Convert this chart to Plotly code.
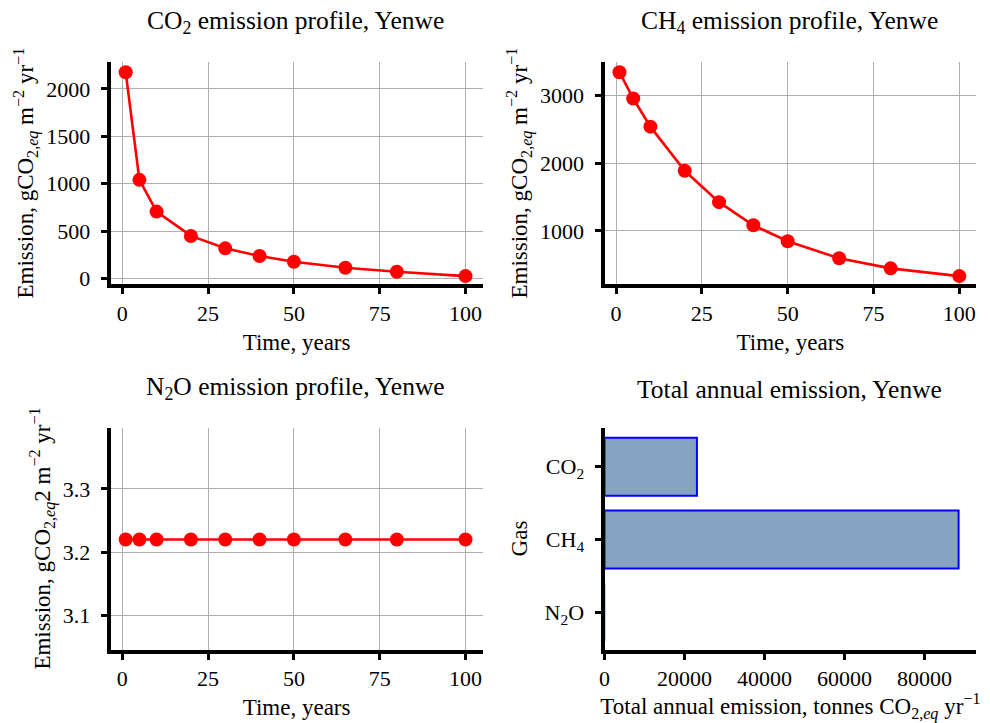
import plotly.graph_objects as go

# ---------------- data ----------------
years = [1, 5, 10, 20, 30, 40, 50, 65, 80, 100]
co2_profile = [2176, 1040, 705, 448, 317, 236, 176, 112, 70, 24]
ch4_profile = [3338, 2950, 2536, 1886, 1424, 1084, 848, 597, 449, 335]
n2o_profile = [3.22, 3.22, 3.22, 3.22, 3.22, 3.22, 3.22, 3.22, 3.22, 3.22]

gases = ["N2O", "CH4", "CO2"]
gas_labels = ["N<sub>2</sub>O", "CH<sub>4</sub>", "CO<sub>2</sub>"]
gas_totals = [85, 88500, 23100]

x_ticks = [0, 25, 50, 75, 100]
co2_ticks = [0, 500, 1000, 1500, 2000]
ch4_ticks = [1000, 2000, 3000]
n2o_ticks = [3.1, 3.2, 3.3]
total_ticks = [0, 20000, 40000, 60000, 80000]

# ---------------- style ----------------
W, H = 990, 723
LW = 4
FONT = "Liberation Serif"
TICK_SIZE = 22
LABEL_SIZE = 23
TITLE_SIZE = 25.5
RED = "#ff0000"
GRID = "#b0b0b0"


def mpl_range(vals, margin=0.05):
    lo, hi = min(vals), max(vals)
    if hi - lo < 1e-12:
        lo, hi = lo - 0.05 * abs(lo), hi + 0.05 * abs(hi)
    span = hi - lo
    return [lo - margin * span, hi + margin * span]


def place(L, R, T, B, xr, yr, shift_x=True):
    # matplotlib spines are centred on the axes edge; plotly draws them outside
    half = LW / 2
    xs = (xr[1] - xr[0]) / (R - L)
    ys = (yr[1] - yr[0]) / (B - T)
    xr2 = [xr[0] + half * xs, xr[1]] if shift_x else list(xr)
    yr2 = [yr[0] + half * ys, yr[1]]
    xd = [(L + half) / W, R / W]
    yd = [1 - (B - half) / H, 1 - T / H]
    return xd, yd, xr2, yr2


L1, R1, L2, R2 = 108.7, 482.5, 602.5, 976.3
T1, B1, T2, B2 = 62, 286.3, 427.5, 651.5

boxes = [
    (L1, R1, T1, B1, mpl_range(years), mpl_range(co2_profile)),
    (L2, R2, T1, B1, mpl_range(years), mpl_range(ch4_profile)),
    (L1, R1, T2, B2, mpl_range(years), mpl_range(n2o_profile)),
    (L2, R2, T2, B2, [0, max(gas_totals) * 1.05], [-0.4 - 0.14, len(gases) - 0.6 + 0.14]),
]

fig = go.Figure()

profiles = [co2_profile, ch4_profile, n2o_profile]
for i, prof in enumerate(profiles):
    sfx = "" if i == 0 else str(i + 1)
    fig.add_trace(go.Scatter(
        x=years, y=prof, mode="lines+markers",
        line=dict(color=RED, width=2.6),
        marker=dict(color=RED, size=14),
        cliponaxis=False, showlegend=False,
        xaxis="x" + sfx, yaxis="y" + sfx,
    ))

# a sub-pixel bar hides under the spine in the original, so it gets no outline
edge_widths = [2 if v > 0.01 * max(gas_totals) else 0 for v in gas_totals]
fig.add_trace(go.Bar(
    x=gas_totals, y=gases, orientation="h",
    marker=dict(color="#86a4c1", line=dict(color="#0000ff", width=edge_widths)),
    width=0.8, showlegend=False, xaxis="x4", yaxis="y4",
))

ylab = "Emission, gCO<sub>2,<i>eq</i></sub> m<sup>−2</sup> yr<sup>−1</sup>"
ylab3 = "Emission, gCO<sub>2,<i>eq</i></sub>2 m<sup>−2</sup> yr<sup>−1</sup>"
xlab = "Time, years"
xlab4 = "Total annual emission, tonnes CO<sub>2,<i>eq</i></sub> yr<sup>−1</sup>"

common = dict(
    showline=True, linecolor="black", linewidth=LW,
    ticks="outside", ticklen=6, tickwidth=2.5, tickcolor="black",
    tickfont=dict(family=FONT, size=TICK_SIZE, color="black"),
    zeroline=False, gridcolor=GRID, gridwidth=1,
    automargin=False,
)

layout = {}
xtitles = [xlab, xlab, xlab, xlab4]
ytitles = [ylab, ylab, ylab3, "Gas"]
ystandoffs = [7, 7, 7, 12]
yticks = [co2_ticks, ch4_ticks, n2o_ticks]
for i, (L, R, T, B, xr, yr) in enumerate(boxes):
    xd, yd, xr2, yr2 = place(L, R, T, B, xr, yr, shift_x=(i < 3))
    sfx = "" if i == 0 else str(i + 1)
    xa = dict(common, domain=xd, range=xr2, anchor="y" + sfx,
              title=dict(text=xtitles[i], font=dict(family=FONT, size=LABEL_SIZE, color="black"), standoff=10))
    ya = dict(common, domain=yd, range=yr2, anchor="x" + sfx, ticklabelstandoff=6,
              title=dict(text=ytitles[i], font=dict(family=FONT, size=LABEL_SIZE, color="black"),
                         standoff=ystandoffs[i]))
    if i < 3:
        xa.update(tickvals=x_ticks, showgrid=True)
        ya.update(showgrid=True, tickvals=yticks[i])
    else:
        xa.update(showgrid=False, tickvals=total_ticks,
                  ticktext=[str(t) for t in total_ticks])
        ya.update(showgrid=False, type="category", categoryarray=gases,
                  categoryorder="array", tickvals=gases, ticktext=gas_labels)
    layout["xaxis" + sfx] = xa
    layout["yaxis" + sfx] = ya

titles = [
    "CO<sub>2</sub> emission profile, Yenwe",
    "CH<sub>4</sub> emission profile, Yenwe",
    "N<sub>2</sub>O emission profile, Yenwe",
    "Total annual emission, Yenwe",
]
annotations = []
for i, (L, R, T, B, xr, yr) in enumerate(boxes):
    annotations.append(dict(
        text=titles[i], xref="paper", yref="paper",
        x=(L + R) / 2 / W, y=1 - (T - 22) / H,
        xanchor="center", yanchor="bottom", showarrow=False,
        font=dict(family=FONT, size=TITLE_SIZE, color="black"),
    ))

fig.update_layout(
    width=W, height=H,
    margin=dict(l=0, r=0, t=0, b=0),
    paper_bgcolor="white", plot_bgcolor="white",
    font=dict(family=FONT, color="black"),
    annotations=annotations,
    bargap=0.2,
    **layout,
)

fig.write_html("out.html")
